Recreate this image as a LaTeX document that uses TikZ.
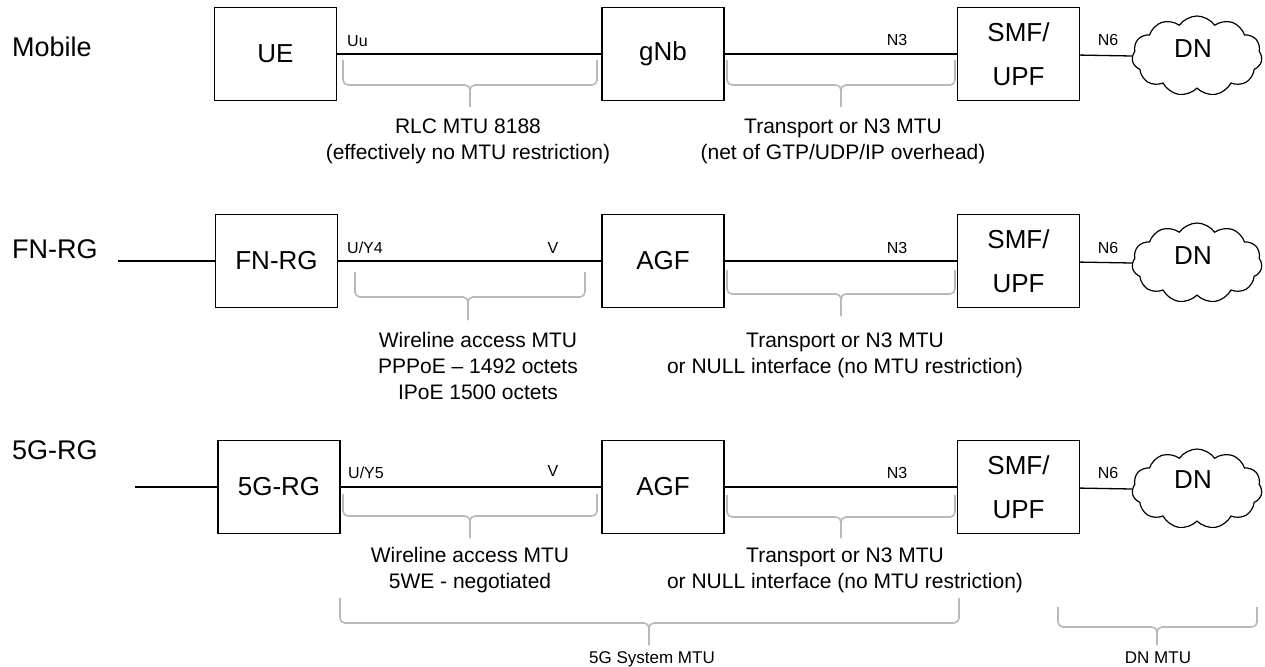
\documentclass[tikz,border=0pt]{standalone}
\usepackage{fontspec}
\setmainfont{Liberation Sans}
\usetikzlibrary{shapes.symbols}
\definecolor{bracegray}{RGB}{185,185,185}

% curly MTU brace: x-left, x-right, x-tip, y-top, y-bottom, y-tip
\newcommand\mtubrace[6]{%
  \draw[mtubrace] (#1,#4) |- (#3,#5) -- (#3,#6);
  \draw[mtubrace] (#2,#4) |- (#3,#5) -- (#3,#6);
}

\begin{document}
\begin{tikzpicture}[x=1pt,y=-1pt,
  netbox/.style={draw, line width=1.4pt, minimum width=122pt, minimum height=93pt,
    inner sep=0pt, align=center, font=\fontsize{26}{44}\selectfont},
  rowlabel/.style={anchor=base west, inner sep=0pt, font=\fontsize{27}{30}\selectfont},
  iflabel/.style={anchor=base, inner sep=0pt, font=\fontsize{16}{18}\selectfont},
  note/.style={anchor=base, inner sep=0pt, font=\fontsize{21}{24}\selectfont},
  smallnote/.style={anchor=base, inner sep=0pt, font=\fontsize{17}{20}\selectfont},
  link/.style={line width=1.3pt},
  mtubrace/.style={draw=bracegray, line width=1.6pt, rounded corners=5pt},
  dncloud/.style={cloud, cloud puffs=11, cloud puff arc=110, draw, line width=1.2pt,
    minimum width=130pt, minimum height=80pt, inner sep=0pt},
  dntext/.style={inner sep=0pt, font=\fontsize{26}{30}\selectfont}
]
\useasboundingbox (0,0) rectangle (1265,666);

% ---------------- Mobile ----------------
\node[rowlabel] (lmob) at (12,57) {Mobile};
\node[netbox] (ue)   at (275.5,54) {UE};
\node[netbox] (gnb)  at (663,54)   {gNb};
\node[netbox] (smfa) at (1018.5,54) {SMF/\\UPF};
\node[dncloud] (dna) at (1197,56) {};
\node[dntext] (dnta) at (1193,49) {DN};
\draw[link] (ue) -- (gnb);
\draw[link] (gnb) -- (smfa);
\draw[link] (smfa) -- (dna.west);
\node[iflabel, anchor=base west] (uu) at (347,47) {Uu};
\node[iflabel] (n3a) at (897,46) {N3};
\node[iflabel] (n6a) at (1108,46) {N6};
\mtubrace{343}{597}{470}{60}{85}{107}
\mtubrace{727}{955}{841}{60}{85}{107}
\node[note] (rlc1) at (468,133) {RLC MTU 8188};
\node[note] (rlc2) at (468,159) {(effectively no MTU restriction)};
\node[note] (tra1) at (843,133) {Transport or N3 MTU};
\node[note] (tra2) at (843,159) {(net of GTP/UDP/IP overhead)};

% ---------------- FN-RG ----------------
\node[rowlabel] (lfn) at (12,258) {FN-RG};
\coordinate (fnin) at (118,261);
\node[netbox] (fnrg) at (276.5,261) {FN-RG};
\node[netbox] (agfb) at (663,261)   {AGF};
\node[netbox] (smfb) at (1018.5,261) {SMF/\\UPF};
\node[dncloud] (dnb) at (1197,263) {};
\node[dntext] (dntb) at (1193,256) {DN};
\draw[link] (fnin) -- (fnrg);
\draw[link] (fnrg) -- (agfb);
\draw[link] (agfb) -- (smfb);
\draw[link] (smfb) -- (dnb.west);
\node[iflabel, anchor=base west] (uy4) at (347,253) {U/Y4};
\node[iflabel] (vb) at (553,253) {V};
\node[iflabel] (n3b) at (897,253) {N3};
\node[iflabel] (n6b) at (1108,253) {N6};
\mtubrace{355}{585}{468}{272}{297}{320}
\mtubrace{727}{955}{841}{270}{294}{316}
\node[note] (wla) at (478,347) {Wireline access MTU};
\node[note] (wlb) at (478,373) {PPPoE -- 1492 octets};
\node[note] (wlc) at (478,399) {IPoE 1500 octets};
\node[note] (trb1) at (845,347) {Transport or N3 MTU};
\node[note] (trb2) at (845,373) {or NULL interface (no MTU restriction)};

% ---------------- 5G-RG ----------------
\node[rowlabel] (l5g) at (12,459) {5G-RG};
\coordinate (rgin) at (135,487);
\node[netbox] (rg5) at (279,487)    {5G-RG};
\node[netbox] (agfc) at (663,487)   {AGF};
\node[netbox] (smfc) at (1018.5,487) {SMF/\\UPF};
\node[dncloud] (dnc) at (1197,489) {};
\node[dntext] (dntc) at (1193,480) {DN};
\draw[link] (rgin) -- (rg5);
\draw[link] (rg5) -- (agfc);
\draw[link] (agfc) -- (smfc);
\draw[link] (smfc) -- (dnc.west);
\node[iflabel, anchor=base west] (uy5) at (348,478) {U/Y5};
\node[iflabel] (vc) at (553,476) {V};
\node[iflabel] (n3c) at (897,478) {N3};
\node[iflabel] (n6c) at (1108,478) {N6};
\mtubrace{343}{597}{470}{494}{516}{538}
\mtubrace{727}{955}{841}{495}{517}{538}
\node[note] (wld) at (470,562) {Wireline access MTU};
\node[note] (wle) at (470,588) {5WE - negotiated};
\node[note] (trc1) at (845,562) {Transport or N3 MTU};
\node[note] (trc2) at (845,588) {or NULL interface (no MTU restriction)};

% ---------------- overall MTU spans ----------------
\mtubrace{340}{959}{649}{598}{623}{645}
\node[smallnote] (sys) at (652,663) {5G System MTU};
\mtubrace{1058}{1257}{1157}{607}{627}{645}
\node[smallnote] (dnmtu) at (1158,663) {DN MTU};
\end{tikzpicture}
\end{document}
